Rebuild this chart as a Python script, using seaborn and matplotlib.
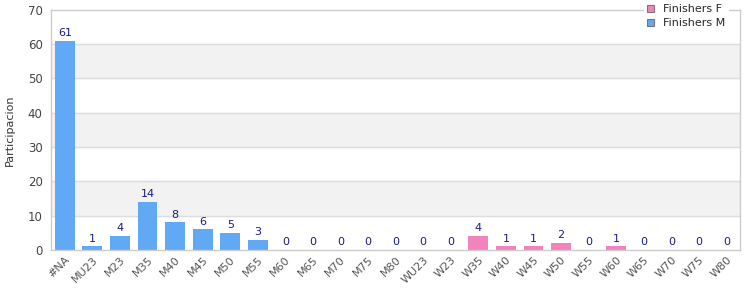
import pandas as pd
import seaborn as sns
import matplotlib.pyplot as plt

# categories and values
categories = ["#NA", "MU23", "M23", "M35", "M40", "M45", "M50", "M55", "M60", "M65",
              "M70", "M75", "M80", "WU23", "W23", "W35", "W40", "W45", "W50", "W55",
              "W60", "W65", "W70", "W75", "W80"]
series = ["Finishers M"] * 13 + ["Finishers F"] * 12
values = [61, 1, 4, 14, 8, 6, 5, 3, 0, 0,
          0, 0, 0, 0, 0, 4, 1, 1, 2, 0,
          1, 0, 0, 0, 0]

df = pd.DataFrame({"categoria": categories, "serie": series, "valor": values})

sns.set_style("white")
plt.rcParams["font.family"] = ["DejaVu Sans"]

fig = plt.figure(figsize=(7.5, 3), dpi=100)
ax = fig.add_axes([0.068, 0.167, 0.919, 0.8])

palette = {"Finishers F": "#f283bd", "Finishers M": "#61a9f4"}
sns.barplot(data=df, x="categoria", y="valor", hue="serie", order=categories,
            hue_order=["Finishers F", "Finishers M"], palette=palette,
            dodge=False, width=0.72, saturation=1, linewidth=0, ax=ax, legend=False)

# alternating bands
for y0 in range(10, 70, 20):
    ax.axhspan(y0, y0 + 10, color="#f2f2f2", zorder=0)
for y0 in range(10, 70, 10):
    ax.axhline(y0, color="#dddddd", lw=1, zorder=0.5)

for cont in ax.containers:
    ax.bar_label(cont, padding=2, fontsize=8, color="#1a1a8a")

ax.set_ylim(0, 70)
ax.set_xlim(-0.5, len(categories) - 0.5)
ax.set_yticks(range(0, 71, 10))
ax.tick_params(axis="y", labelsize=8.5, labelcolor="#444444", length=0, pad=6)
ax.tick_params(axis="x", labelsize=8, labelcolor="#555555", length=0)
plt.setp(ax.get_xticklabels(), rotation=45, ha="right", rotation_mode="anchor")
ax.set_xlabel("")
ax.set_ylabel("Participacion", fontsize=8, color="#333333", labelpad=9)

for s in ax.spines.values():
    s.set_color("#cccccc")
    s.set_linewidth(1)

handles = [plt.Rectangle((0, 0), 1, 1, facecolor=palette[k], edgecolor="#777777", lw=0.8)
           for k in ["Finishers F", "Finishers M"]]
leg = ax.legend(handles, ["Finishers F", "Finishers M"], loc="upper right",
                bbox_to_anchor=(0.99, 1.055), fontsize=8, frameon=True,
                handlelength=0.7, handleheight=0.7, handletextpad=0.8,
                labelspacing=0.35, borderpad=0.2, fancybox=False)
leg.get_frame().set_facecolor("white")
leg.get_frame().set_edgecolor("white")
leg.get_frame().set_alpha(1)

fig.savefig("out.png", dpi=100)
